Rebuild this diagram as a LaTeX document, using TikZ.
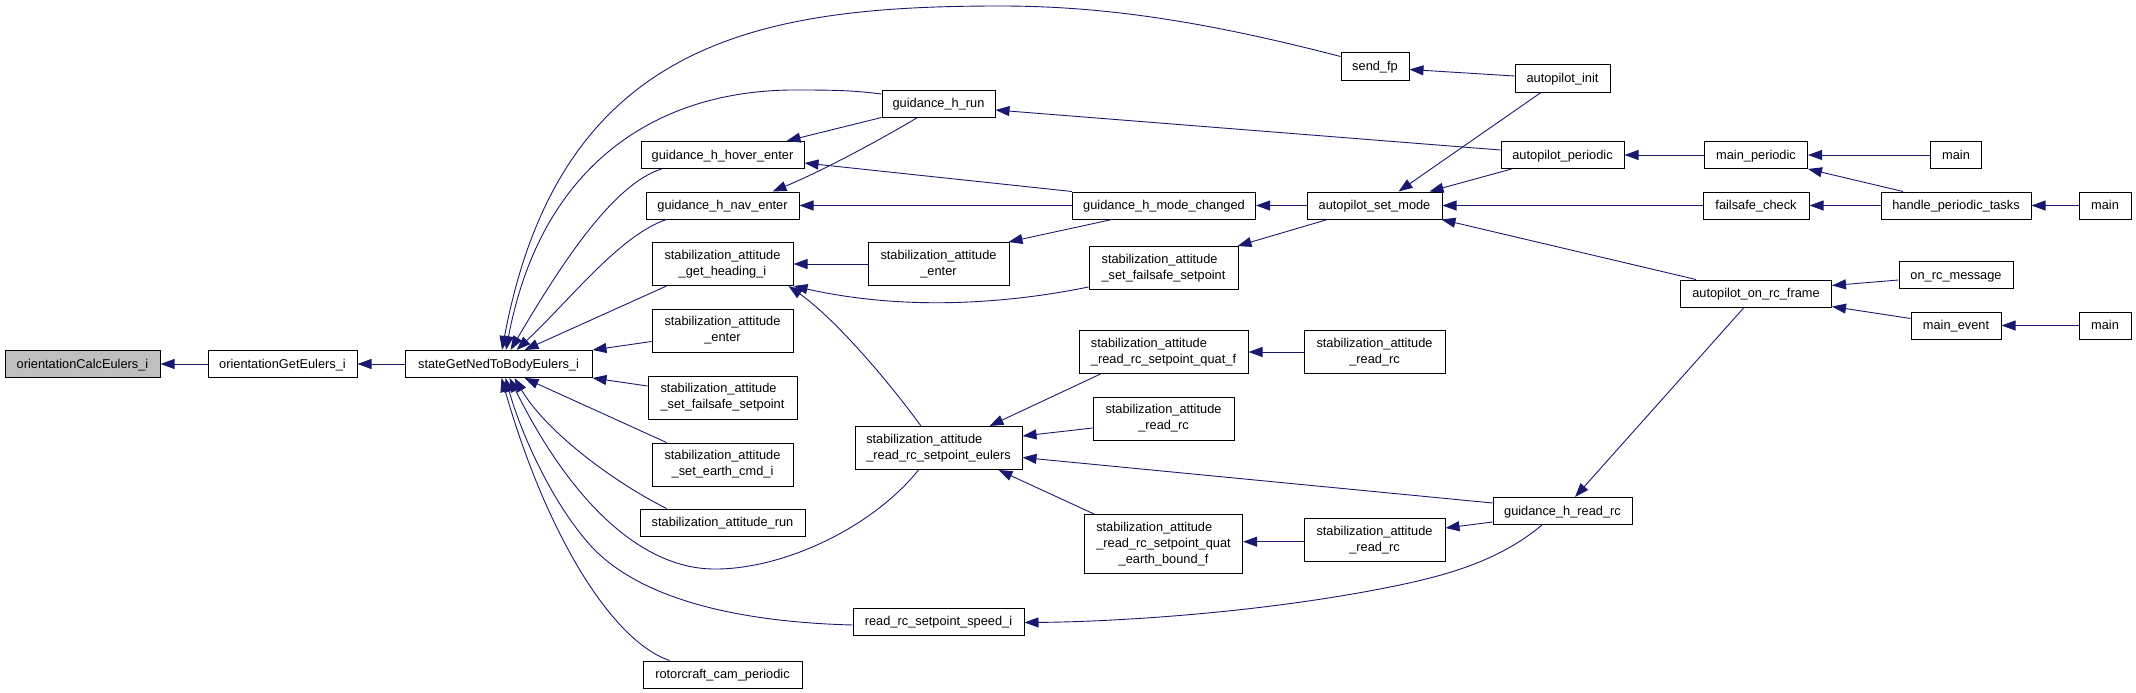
\documentclass[tikz,border=0pt]{standalone}
\usepackage{fontspec}
\setmainfont{Liberation Sans}
\usetikzlibrary{arrows.meta,calc}
\definecolor{edgeblue}{RGB}{25,25,112}
\definecolor{nodegray}{RGB}{191,191,191}
\newcommand{\twoL}[2]{\begin{tabular}{@{}l@{}}#1\\#2\end{tabular}}
\newcommand{\twoC}[2]{\begin{tabular}{@{}c@{}}#1\\#2\end{tabular}}
\begin{document}
\begin{tikzpicture}[x=1pt,y=-1pt,
 fbox/.style={draw=black, line width=1pt, fill=white, inner sep=0pt, font=\fontsize{12.8}{16}\selectfont, minimum height=27pt},
 fone/.style={fbox, text height=11pt, text depth=2.4pt},
 ftwo/.style={fbox, minimum height=43pt},
 conn/.style={draw=edgeblue, line width=0.9pt, -{Triangle[length=14pt,width=10pt]}},
]
\useasboundingbox (0,0) rectangle (2136,693);

\node[fone, fill=nodegray, minimum width=155pt] (calc) at (82.5,364) {orientationCalcEulers\_i};
\node[fone, minimum width=149pt] (getEul) at (282.5,364) {orientationGetEulers\_i};
\node[fone, minimum width=187pt] (stateGet) at (498.5,364) {stateGetNedToBodyEulers\_i};
\node[fone, minimum width=163pt] (hover) at (722.5,155) {guidance\_h\_hover\_enter};
\node[fone, minimum width=153pt] (nav) at (722.5,205.5) {guidance\_h\_nav\_enter};
\node[ftwo, minimum width=141pt] (head) at (722.5,264) {\twoC{stabilization\_attitude}{\_get\_heading\_i}};
\node[ftwo, minimum width=141pt] (saeA) at (722.5,330.5) {\twoC{stabilization\_attitude}{\_enter}};
\node[ftwo, minimum width=149pt] (sfsA) at (722.5,397.5) {\twoL{stabilization\_attitude}{\_set\_failsafe\_setpoint}};
\node[ftwo, minimum width=141pt] (earth) at (722.5,464.5) {\twoC{stabilization\_attitude}{\_set\_earth\_cmd\_i}};
\node[fone, minimum width=165pt] (arun) at (722.5,522.5) {stabilization\_attitude\_run};
\node[fone, minimum width=159pt] (cam) at (722.5,674.5) {rotorcraft\_cam\_periodic};
\node[fone, minimum width=113pt] (hrun) at (938.5,103.5) {guidance\_h\_run};
\node[ftwo, minimum width=141pt] (saeB) at (938.5,264) {\twoC{stabilization\_attitude}{\_enter}};
\node[ftwo, minimum width=167pt] (eulers) at (938.5,448) {\twoL{stabilization\_attitude}{\_read\_rc\_setpoint\_eulers}};
\node[fone, minimum width=171pt] (speed) at (938.5,621.5) {read\_rc\_setpoint\_speed\_i};
\node[fone, minimum width=68pt] (sendfp) at (1375,66.5) {send\_fp};
\node[fone, minimum width=183pt] (modech) at (1164,205.5) {guidance\_h\_mode\_changed};
\node[ftwo, minimum width=149pt] (sfsB) at (1163.5,268) {\twoL{stabilization\_attitude}{\_set\_failsafe\_setpoint}};
\node[ftwo, minimum width=169pt] (quatf) at (1163.5,352) {\twoL{stabilization\_attitude}{\_read\_rc\_setpoint\_quat\_f}};
\node[ftwo, minimum width=141pt] (rcA) at (1163.5,418.5) {\twoC{stabilization\_attitude}{\_read\_rc}};
\node[fbox, minimum height=59pt, minimum width=158pt] (ebound) at (1163.5,544) {\begin{tabular}{@{}l@{}}stabilization\_attitude\\\_read\_rc\_setpoint\_quat\\\multicolumn{1}{@{}c@{}}{\_earth\_bound\_f}\end{tabular}};
\node[fone, minimum width=135pt] (setmode) at (1374.5,205.5) {autopilot\_set\_mode};
\node[ftwo, minimum width=141pt] (rcB) at (1374.5,352) {\twoC{stabilization\_attitude}{\_read\_rc}};
\node[ftwo, minimum width=141pt] (rcC) at (1374.5,540) {\twoC{stabilization\_attitude}{\_read\_rc}};
\node[fone, minimum width=95pt] (apinit) at (1562.5,78.5) {autopilot\_init};
\node[fone, minimum width=123pt] (apper) at (1562.5,155) {autopilot\_periodic};
\node[fone, minimum width=151pt] (onrcf) at (1756,293.5) {autopilot\_on\_rc\_frame};
\node[fone, minimum width=139pt] (hreadrc) at (1562.5,511) {guidance\_h\_read\_rc};
\node[fone, minimum width=103pt] (mainper) at (1756,155) {main\_periodic};
\node[fone, minimum width=106pt] (fscheck) at (1756,205.5) {failsafe\_check};
\node[fone, minimum width=150pt] (handle) at (1956,205.5) {handle\_periodic\_tasks};
\node[fone, minimum width=51pt] (mainA) at (1956,155) {main};
\node[fone, minimum width=114pt] (onrcmsg) at (1956,275) {on\_rc\_message};
\node[fone, minimum width=90pt] (mainev) at (1956,325.5) {main\_event};
\node[fone, minimum width=52pt] (mainB) at (2105,205.5) {main};
\node[fone, minimum width=52pt] (mainC) at (2105,325.5) {main};

% edges
\draw[conn] (getEul.west) -- (calc.east);
\draw[conn] (stateGet.west) -- (getEul.east);
\draw[conn] ($(sendfp.north west)+(0,4)$) .. controls (1200,20) and (1100,6) .. (1000,6) .. controls (760,6) and (560,40) .. ($(stateGet.north)+(3.5,0)$);
\draw[conn] ($(hrun.west)+(0,-9.5)$) .. controls (850,90) and (830,90) .. (790,90) .. controls (650,92) and (540,170) .. ($(stateGet.north)+(7.5,0)$);
\draw[conn] ($(hover.south west)+(21,0)$) .. controls (610,185) and (555,275) .. ($(stateGet.north)+(12,0)$);
\draw[conn] ($(nav.south west)+(21,0)$) .. controls (620,235) and (570,300) .. ($(stateGet.north)+(18,0)$);
\draw[conn] ($(head.south west)+(15,0)$) -- ($(stateGet.north)+(26,0)$);
\draw[conn] ($(saeA.west)+(0,11)$) -- (stateGet.north east);
\draw[conn] ($(sfsA.west)+(0,-11.5)$) -- (stateGet.south east);
\draw[conn] ($(earth.north west)+(15,0)$) -- ($(stateGet.south)+(26,0)$);
\draw[conn] ($(arun.north west)+(27,0)$) .. controls (610,480) and (545,430) .. ($(stateGet.south)+(16,0)$);
\draw[conn] ($(eulers.south west)+(64,0)$) .. controls (870,530) and (780,570) .. (713,569) .. controls (640,568) and (570,500) .. ($(stateGet.south)+(11,0)$);
\draw[conn] ($(speed.west)+(0,3.5)$) .. controls (740,622) and (640,600) .. (590,545) .. controls (550,500) and (520,430) .. ($(stateGet.south)+(7,0)$);
\draw[conn] ($(cam.north west)+(27,0)$) .. controls (610,640) and (545,530) .. ($(stateGet.south)+(3,0)$);

\draw[conn] (hrun.south west) -- ($(hover.north east)+(-18,0)$);
\draw[conn] ($(hrun.south)+(-21,0)$) .. controls (880,140) and (820,172) .. ($(nav.north)+(50,0)$);
\draw[conn] (modech.north west) -- ($(hover.east)+(0,8)$);
\draw[conn] (modech.west) -- (nav.east);
\draw[conn] (saeB.west) -- (head.east);
\draw[conn] ($(sfsB.west)+(0,19)$) .. controls (1000,305) and (900,310) .. (head.south east);
\draw[conn] ($(eulers.north)+(-17.5,0)$) .. controls (880,370) and (830,315) .. ($(head.south east)+(-5,0)$);
\draw[conn] ($(modech.south)+(-52,0)$) -- ($(saeB.north east)+(-1,0)$);
\draw[conn] (setmode.west) -- (modech.east);
\draw[conn] ($(setmode.south west)+(21,0)$) -- ($(sfsB.north east)+(-1,0)$);
\draw[conn] ($(apinit.west)+(0,-2.5)$) -- ($(sendfp.east)+(0,3)$);
\draw[conn] ($(apper.west)+(0,-5)$) -- ($(hrun.east)+(0,6.5)$);
\draw[conn] ($(apinit.south)+(-21.5,0)$) -- ($(setmode.north)+(24,0)$);
\draw[conn] ($(apper.south west)+(11,0)$) -- ($(setmode.north east)+(-13,0)$);
\draw[conn] (mainper.west) -- (apper.east);
\draw[conn] (fscheck.west) -- (setmode.east);
\draw[conn] ($(onrcf.north west)+(16,0)$) -- ($(setmode.south east)+(-1,0)$);
\draw[conn] (mainA.west) -- (mainper.east);
\draw[conn] ($(handle.north)+(-53,0)$) -- (mainper.south east);
\draw[conn] (handle.west) -- (fscheck.east);
\draw[conn] (mainB.west) -- (handle.east);
\draw[conn] ($(onrcmsg.west)+(0,5)$) -- ($(onrcf.east)+(0,-8)$);
\draw[conn] ($(mainev.west)+(0,-7)$) -- ($(onrcf.south east)+(0,-1)$);
\draw[conn] (mainC.west) -- (mainev.east);
\draw[conn] ($(onrcf.south)+(-12,0)$) -- ($(hreadrc.north)+(12.5,0)$);
\draw[conn] ($(quatf.south west)+(22,0)$) -- ($(eulers.north east)+(-33,0)$);
\draw[conn] ($(rcA.west)+(0,9.5)$) -- ($(eulers.east)+(0,-12)$);
\draw[conn] ($(hreadrc.west)+(0,-8)$) -- ($(eulers.east)+(0,9.5)$);
\draw[conn] ($(ebound.north west)+(10,0)$) -- ($(eulers.south east)+(-24,0)$);
\draw[conn] (rcB.west) -- (quatf.east);
\draw[conn] ($(rcC.west)+(0,1.7)$) -- ($(ebound.east)+(0,-2.3)$);
\draw[conn] ($(hreadrc.west)+(0,11)$) -- ($(rcC.east)+(0,-12)$);
\draw[conn] ($(hreadrc.south)+(-20.5,0)$) .. controls (1500,560) and (1450,575) .. (1390,587) .. controls (1250,615) and (1100,622) .. ($(speed.east)+(0,1)$);
\end{tikzpicture}
\end{document}
